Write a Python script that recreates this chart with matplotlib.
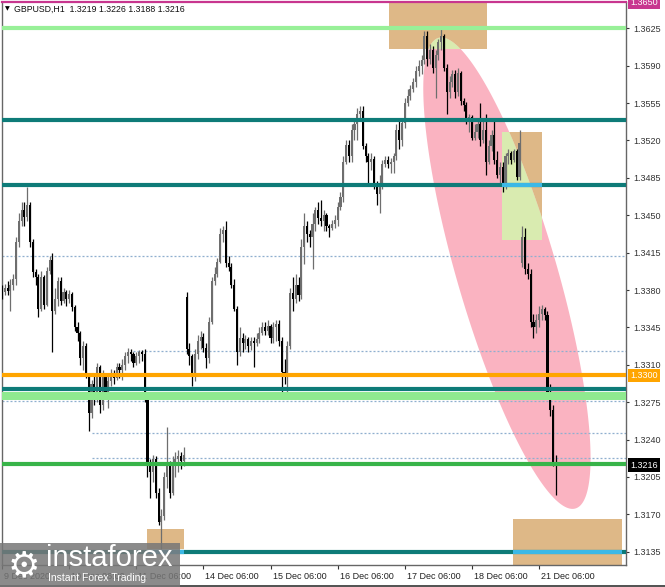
import matplotlib
matplotlib.use("Agg")
import matplotlib.pyplot as plt
import matplotlib.transforms as mtransforms
from matplotlib.patches import Rectangle, Polygon
from matplotlib.lines import Line2D
import numpy as np

plt.rcParams['font.family'] = ['Liberation Sans', 'DejaVu Sans']

# ---------------- data (GBPUSD H1, 9 Dec 06:00 -> 21 Dec 12:00) ----------------
opens = [
    1.3382, 1.3378, 1.3382, 1.3379, 1.3385, 1.3390, 1.3425, 1.3445, 1.3455, 1.3448, 1.3460, 1.3425,
    1.3397, 1.3392, 1.3362, 1.3392, 1.3366, 1.3398, 1.3408, 1.3360, 1.3372, 1.3388, 1.3370, 1.3378,
    1.3372, 1.3376, 1.3364, 1.3345, 1.3340, 1.3316, 1.3328, 1.3300, 1.3265, 1.3292, 1.3280, 1.3308,
    1.3272, 1.3300, 1.3285, 1.3295, 1.3302, 1.3298, 1.3308, 1.3305, 1.3310, 1.3318, 1.3322, 1.3320,
    1.3312, 1.3318, 1.3322, 1.3320, 1.3280, 1.3215, 1.3210, 1.3222, 1.3190, 1.3163, 1.3168, 1.3205,
    1.3215, 1.3190, 1.3218, 1.3222, 1.3225, 1.3220,
    1.3373, 1.3325, 1.3318, 1.3300, 1.3320, 1.3332, 1.3336, 1.3326, 1.3316, 1.3350, 1.3388, 1.3395,
    1.3406, 1.3432, 1.3436, 1.3405, 1.3402, 1.3385, 1.3362, 1.3322, 1.3335, 1.3330, 1.3334, 1.3328,
    1.3332, 1.3330, 1.3334, 1.3340, 1.3345, 1.3342, 1.3346, 1.3335, 1.3345, 1.3348, 1.3332, 1.3303,
    1.3300, 1.3328, 1.3377, 1.3372, 1.3385, 1.3375, 1.3420, 1.3440, 1.3432, 1.3430, 1.3442, 1.3455,
    1.3447, 1.3445, 1.3450, 1.3440, 1.3438, 1.3442, 1.3446, 1.3458, 1.3467, 1.3500, 1.3516, 1.3505,
    1.3530, 1.3535, 1.3545, 1.3548, 1.3515, 1.3505, 1.3500, 1.3503, 1.3478, 1.3470, 1.3480, 1.3498,
    1.3502, 1.3498, 1.3500, 1.3505, 1.3530, 1.3520, 1.3536, 1.3555, 1.3562, 1.3568, 1.3575, 1.3585,
    1.3590, 1.3595, 1.3618, 1.3596, 1.3605, 1.3588, 1.3600, 1.3612, 1.3618, 1.3588, 1.3565, 1.3575,
    1.3582, 1.3565, 1.3583, 1.3557, 1.3553, 1.3540, 1.3542, 1.3522, 1.3528, 1.3535, 1.3520, 1.3530,
    1.3500, 1.3515, 1.3525, 1.3502, 1.3488, 1.3495, 1.3478, 1.3505, 1.3508, 1.3502, 1.3510, 1.3486,
    1.3405, 1.3430, 1.3400, 1.3395, 1.3350, 1.3345, 1.3352, 1.3358, 1.3362, 1.3357, 1.3285, 1.3268,
    1.3219,
]
highs = [
    1.3385, 1.3386, 1.3388, 1.3390, 1.3395, 1.3430, 1.3452, 1.3462, 1.3462, 1.3476, 1.3462, 1.3428,
    1.3400, 1.3395, 1.3398, 1.3394, 1.3402, 1.3412, 1.3415, 1.3382, 1.3392, 1.3392, 1.3382, 1.3380,
    1.3380, 1.3378, 1.3366, 1.3350, 1.3342, 1.3332, 1.3330, 1.3302, 1.3296, 1.3300, 1.3312, 1.3310,
    1.3305, 1.3302, 1.3300, 1.3306, 1.3305, 1.3312, 1.3312, 1.3315, 1.3322, 1.3326, 1.3325, 1.3322,
    1.3322, 1.3324, 1.3324, 1.3325, 1.3285, 1.3222, 1.3226, 1.3225, 1.3195, 1.3175, 1.3210, 1.3252,
    1.3220, 1.3225, 1.3228, 1.3230, 1.3228, 1.3233,
    1.3378, 1.3330, 1.3320, 1.3325, 1.3338, 1.3342, 1.3340, 1.3330, 1.3355, 1.3392, 1.3402, 1.3410,
    1.3438, 1.3440, 1.3445, 1.3412, 1.3405, 1.3390, 1.3365, 1.3345, 1.3340, 1.3338, 1.3336, 1.3336,
    1.3336, 1.3340, 1.3345, 1.3350, 1.3350, 1.3352, 1.3348, 1.3350, 1.3352, 1.3352, 1.3336, 1.3315,
    1.3332, 1.3382, 1.3392, 1.3395, 1.3392, 1.3428, 1.3452, 1.3445, 1.3436, 1.3452, 1.3458, 1.3462,
    1.3464, 1.3455, 1.3452, 1.3442, 1.3446, 1.3450, 1.3462, 1.3472, 1.3505, 1.3520, 1.3520, 1.3535,
    1.3540, 1.3550, 1.3552, 1.3552, 1.3518, 1.3508, 1.3508, 1.3505, 1.3482, 1.3488, 1.3502, 1.3505,
    1.3505, 1.3504, 1.3508, 1.3535, 1.3538, 1.3540, 1.3560, 1.3568, 1.3572, 1.3578, 1.3590, 1.3595,
    1.3600, 1.3622, 1.3622, 1.3610, 1.3608, 1.3605, 1.3615, 1.3624, 1.3620, 1.3592, 1.3580, 1.3586,
    1.3586, 1.3588, 1.3585, 1.3560, 1.3556, 1.3545, 1.3544, 1.3535, 1.3540, 1.3555, 1.3540, 1.3545,
    1.3520, 1.3530, 1.3538, 1.3510, 1.3500, 1.3500, 1.3508, 1.3512, 1.3510, 1.3512, 1.3512, 1.3530,
    1.3440, 1.3438, 1.3405, 1.3400, 1.3358, 1.3358, 1.3365, 1.3366, 1.3364, 1.3360, 1.3292, 1.3272,
    1.3226,
]
lows = [
    1.3372, 1.3375, 1.3375, 1.3360, 1.3380, 1.3385, 1.3420, 1.3440, 1.3440, 1.3445, 1.3420, 1.3392,
    1.3385, 1.3355, 1.3360, 1.3362, 1.3365, 1.3395, 1.3322, 1.3358, 1.3365, 1.3366, 1.3368, 1.3365,
    1.3368, 1.3360, 1.3342, 1.3332, 1.3310, 1.3305, 1.3298, 1.3248, 1.3260, 1.3272, 1.3275, 1.3265,
    1.3268, 1.3278, 1.3270, 1.3290, 1.3292, 1.3296, 1.3298, 1.3296, 1.3305, 1.3312, 1.3314, 1.3308,
    1.3310, 1.3312, 1.3314, 1.3275, 1.3205, 1.3185, 1.3200, 1.3185, 1.3160, 1.3138, 1.3165, 1.3195,
    1.3185, 1.3188, 1.3205, 1.3210, 1.3212, 1.3215,
    1.3320, 1.3310, 1.3290, 1.3295, 1.3315, 1.3325, 1.3322, 1.3307, 1.3312, 1.3348, 1.3385, 1.3392,
    1.3405, 1.3425, 1.3402, 1.3398, 1.3382, 1.3360, 1.3310, 1.3318, 1.3322, 1.3325, 1.3322, 1.3324,
    1.3308, 1.3328, 1.3330, 1.3338, 1.3338, 1.3338, 1.3330, 1.3330, 1.3332, 1.3328, 1.3279, 1.3292,
    1.3285, 1.3325, 1.3360, 1.3368, 1.3370, 1.3372, 1.3404, 1.3425, 1.3420, 1.3400, 1.3435, 1.3442,
    1.3440, 1.3435, 1.3435, 1.3430, 1.3436, 1.3438, 1.3440, 1.3455, 1.3462, 1.3498, 1.3500, 1.3500,
    1.3520, 1.3520, 1.3538, 1.3512, 1.3500, 1.3478, 1.3492, 1.3475, 1.3460, 1.3452, 1.3475, 1.3495,
    1.3494, 1.3490, 1.3490, 1.3502, 1.3512, 1.3515, 1.3532, 1.3552, 1.3558, 1.3565, 1.3570, 1.3580,
    1.3582, 1.3592, 1.3590, 1.3592, 1.3583, 1.3560, 1.3595, 1.3605, 1.3585, 1.3545, 1.3560, 1.3570,
    1.3560, 1.3562, 1.3553, 1.3548, 1.3535, 1.3528, 1.3520, 1.3520, 1.3522, 1.3515, 1.3518, 1.3488,
    1.3498, 1.3510, 1.3498, 1.3485, 1.3480, 1.3472, 1.3475, 1.3498, 1.3498, 1.3500, 1.3483, 1.3483,
    1.3402, 1.3395, 1.3390, 1.3345, 1.3335, 1.3340, 1.3345, 1.3352, 1.3352, 1.3282, 1.3262, 1.3215,
    1.3188,
]
closes = [
    1.3378, 1.3382, 1.3379, 1.3385, 1.3390, 1.3425, 1.3445, 1.3455, 1.3448, 1.3460, 1.3425, 1.3397,
    1.3392, 1.3362, 1.3392, 1.3366, 1.3398, 1.3408, 1.3360, 1.3372, 1.3388, 1.3370, 1.3378, 1.3372,
    1.3376, 1.3364, 1.3345, 1.3340, 1.3316, 1.3328, 1.3300, 1.3265, 1.3292, 1.3280, 1.3308, 1.3272,
    1.3300, 1.3285, 1.3295, 1.3302, 1.3298, 1.3308, 1.3305, 1.3310, 1.3318, 1.3322, 1.3320, 1.3312,
    1.3318, 1.3322, 1.3320, 1.3280, 1.3215, 1.3210, 1.3222, 1.3190, 1.3163, 1.3168, 1.3205, 1.3215,
    1.3190, 1.3218, 1.3222, 1.3225, 1.3220, 1.3226,
    1.3325, 1.3318, 1.3300, 1.3320, 1.3332, 1.3336, 1.3326, 1.3316, 1.3350, 1.3388, 1.3395, 1.3406,
    1.3432, 1.3436, 1.3405, 1.3402, 1.3385, 1.3362, 1.3322, 1.3335, 1.3330, 1.3334, 1.3328, 1.3332,
    1.3330, 1.3334, 1.3340, 1.3345, 1.3342, 1.3346, 1.3335, 1.3345, 1.3348, 1.3332, 1.3303, 1.3300,
    1.3328, 1.3377, 1.3372, 1.3385, 1.3375, 1.3420, 1.3440, 1.3432, 1.3430, 1.3442, 1.3455, 1.3447,
    1.3445, 1.3450, 1.3440, 1.3438, 1.3442, 1.3446, 1.3458, 1.3467, 1.3500, 1.3516, 1.3505, 1.3530,
    1.3535, 1.3545, 1.3548, 1.3515, 1.3505, 1.3500, 1.3503, 1.3478, 1.3470, 1.3480, 1.3498, 1.3502,
    1.3498, 1.3500, 1.3505, 1.3530, 1.3520, 1.3536, 1.3555, 1.3562, 1.3568, 1.3575, 1.3585, 1.3590,
    1.3595, 1.3618, 1.3596, 1.3605, 1.3588, 1.3600, 1.3612, 1.3618, 1.3588, 1.3565, 1.3575, 1.3582,
    1.3565, 1.3583, 1.3557, 1.3553, 1.3540, 1.3542, 1.3522, 1.3528, 1.3535, 1.3520, 1.3530, 1.3500,
    1.3515, 1.3525, 1.3502, 1.3488, 1.3495, 1.3478, 1.3505, 1.3508, 1.3502, 1.3510, 1.3486, 1.3518,
    1.3430, 1.3400, 1.3395, 1.3350, 1.3345, 1.3352, 1.3358, 1.3362, 1.3357, 1.3285, 1.3268, 1.3219,
    1.3216,
]

x_tick_pos = [0, 24, 48, 72, 96, 120, 144, 168, 192]
x_tick_labels = ['9 Dec 2020', '10 Dec 06:00', '11 Dec 06:00', '14 Dec 06:00', '15 Dec 06:00',
                 '16 Dec 06:00', '17 Dec 06:00', '18 Dec 06:00', '21 Dec 06:00']
y_ticks = [1.3625, 1.3590, 1.3555, 1.3520, 1.3485, 1.3450, 1.3415, 1.3380,
           1.3345, 1.3310, 1.3275, 1.3240, 1.3205, 1.3170, 1.3135]

# horizontal levels (price, colour)
solid_levels = [(1.3625, '#98F098'), (1.3539, '#0E7B78'), (1.3478, '#0E7B78'),
                (1.3300, '#FFA500'), (1.3287, '#0E7B78'), (1.32175, '#38B449'),
                (1.3135, '#0E7B78')]
band_low, band_high = 1.3277, 1.3285
# dotted levels (price, start bar index)
dotted_levels = [(1.3412, 0), (1.3323, 47), (1.3276, 0), (1.3246, 32), (1.3223, 32)]
# rectangles: (x0, x1, price_low, price_high)
rects = [(138.4, 173.4, 1.36056, 1.3652), (178.8, 193.1, 1.34268, 1.35278),
         (52.0, 64.9, 1.31372, 1.31559), (182.7, 221.6, 1.3120, 1.31653)]
# ellipse tips (bar index, price)
ell_top = (156.0, 1.36160)
ell_bottom = (205.0, 1.31755)

# ---------------- figure ----------------
W, H, DPI = 665, 587, 100
fig = plt.figure(figsize=(W / DPI, H / DPI), dpi=DPI)
fig.patch.set_facecolor('white')
ax = fig.add_axes([2 / W, 22 / H, 624 / W, 563 / H])
ax.set_xlim(0.214, 223.07)
ax.set_ylim(1.31226, 1.36496)
ax.set_facecolor('white')

TAN = '#DEB887'
PINK = '#FAB3C1'
LGREEN = '#D9EBB0'
LBLUE = '#3CB8E6'

rect_patches = []
for (x0, x1, p0, p1) in rects:
    r = Rectangle((x0, p0), x1 - x0, p1 - p0, facecolor=TAN, edgecolor='none', zorder=1)
    ax.add_patch(r)
    rect_patches.append(r)

# ellipse built in display space so its rotation is undistorted
T = ax.transData
pt = T.transform(ell_top)
pb = T.transform(ell_bottom)
cen = (pt + pb) / 2
d = pb - pt
a = np.linalg.norm(d) / 2
u = d / (2 * a)
v = np.array([-u[1], u[0]])
b = 50.0
tt = np.linspace(0, 2 * np.pi, 300)
pts = cen + np.outer(a * np.cos(tt), u) + np.outer(b * np.sin(tt), v)
pts_data = T.inverted().transform(pts)
ax.add_patch(Polygon(pts_data, closed=True, facecolor=PINK, edgecolor='none', zorder=1.5))
for r in rect_patches[:2]:
    pg = Polygon(pts_data, closed=True, facecolor=LGREEN, edgecolor='none', zorder=2)
    ax.add_patch(pg)
    pg.set_clip_path(r)

# dotted levels
xmax_bar = 223.07
for price, start in dotted_levels:
    ax.hlines(price, start, xmax_bar, colors='#8FAFCF', linestyles=(0, (1.6, 1.6)), lw=0.9, zorder=2.5)

# candles
o = np.array(opens); h = np.array(highs); l = np.array(lows); c = np.array(closes)
idx = np.arange(len(c))
bull = c >= o
cols = np.where(bull, '#6e6e6e', '#000000')
ax.vlines(idx, l, h, colors=cols, lw=0.9, zorder=3)
body_b = np.minimum(o, c)
body_h = np.maximum(np.abs(c - o), 0.00006)
ax.bar(idx, body_h, bottom=body_b, width=0.75, color=cols, linewidth=0, zorder=3)

# solid levels
ax.axhspan(band_low, band_high, color='#8FEA8F', zorder=3.5, lw=0)
for price, col in solid_levels:
    ax.axhline(price, color=col, lw=3.0, zorder=4)
# XOR-like colour where teal lines run through tan rectangles
ax.hlines(1.3478, rects[1][0], rects[1][1], colors=LBLUE, lw=3.0, zorder=4.5)
ax.hlines(1.3135, rects[2][0], rects[2][1], colors=LBLUE, lw=3.0, zorder=4.5)
ax.hlines(1.3135, rects[3][0], rects[3][1], colors=LBLUE, lw=3.0, zorder=4.5)

# axes styling
for s in ['left', 'right', 'bottom']:
    ax.spines[s].set_color('#666666')
    ax.spines[s].set_linewidth(1.0)
ax.spines['top'].set_color('#C8368F')
ax.spines['top'].set_linewidth(1.6)

ax.yaxis.tick_right()
ax.set_yticks(y_ticks)
ax.set_yticklabels(['%.4f' % v for v in y_ticks])
ax.tick_params(axis='y', length=2.5, width=0.8, pad=3, labelsize=6.5, colors='#333333')
ax.set_xticks(x_tick_pos)
ax.set_xticklabels([])
ax.tick_params(axis='x', length=3, width=0.8, colors='#333333', direction='out')

xtrans = mtransforms.blended_transform_factory(ax.transData, ax.transAxes)
xtrans = mtransforms.offset_copy(xtrans, fig=fig, x=2, y=-7, units='dots')
for pos, lab in zip(x_tick_pos, x_tick_labels):
    ax.text(pos, 0, lab, transform=xtrans, ha='left', va='top', fontsize=6.5,
            color='#222222', clip_on=False)

# price boxes on the right axis
rtrans = mtransforms.blended_transform_factory(ax.transAxes, ax.transData)
rtrans = mtransforms.offset_copy(rtrans, fig=fig, x=4, y=0, units='dots')
for price, txt, fc in [(1.36496, '1.3650', '#C8368F'), (1.3300, '1.3300', '#FFA500'),
                       (1.3216, '1.3216', '#000000')]:
    ax.text(1.0, price, txt, transform=rtrans, ha='left', va='center', fontsize=6.5,
            color='white', clip_on=False, zorder=10,
            bbox=dict(boxstyle='square,pad=0.25', fc=fc, ec='none'))

# header
fig.text(5 / W, 1 - 8.5 / H, '\u25BC', fontsize=4.5, color='black', va='center', ha='left',
         family='DejaVu Sans')
fig.text(14 / W, 1 - 9 / H, 'GBPUSD,H1  1.3219 1.3226 1.3188 1.3216', fontsize=6.3,
         color='#111111', va='center', ha='left')

# instaforex logo
fig.add_artist(Rectangle((0, 0), 180 / W, 44 / H, transform=fig.transFigure,
                         facecolor='#777777', alpha=0.85, edgecolor='none', zorder=20))
fig.text(24 / W, 1 - 566 / H, '\u2699', fontsize=26, color='white', ha='center', va='center',
         family='DejaVu Sans', zorder=21)
fig.text(46 / W, 1 - 558 / H, 'instaforex', fontsize=21, color='white', ha='left', va='center',
         zorder=21)
fig.text(48 / W, 1 - 578 / H, 'Instant Forex Trading', fontsize=7.5, color='white', ha='left',
         va='center', zorder=21)

fig.add_artist(Line2D([0, 1], [1.5 / H, 1.5 / H], transform=fig.transFigure, color='#333333', lw=1.2))

fig.savefig('out.png', dpi=DPI)
